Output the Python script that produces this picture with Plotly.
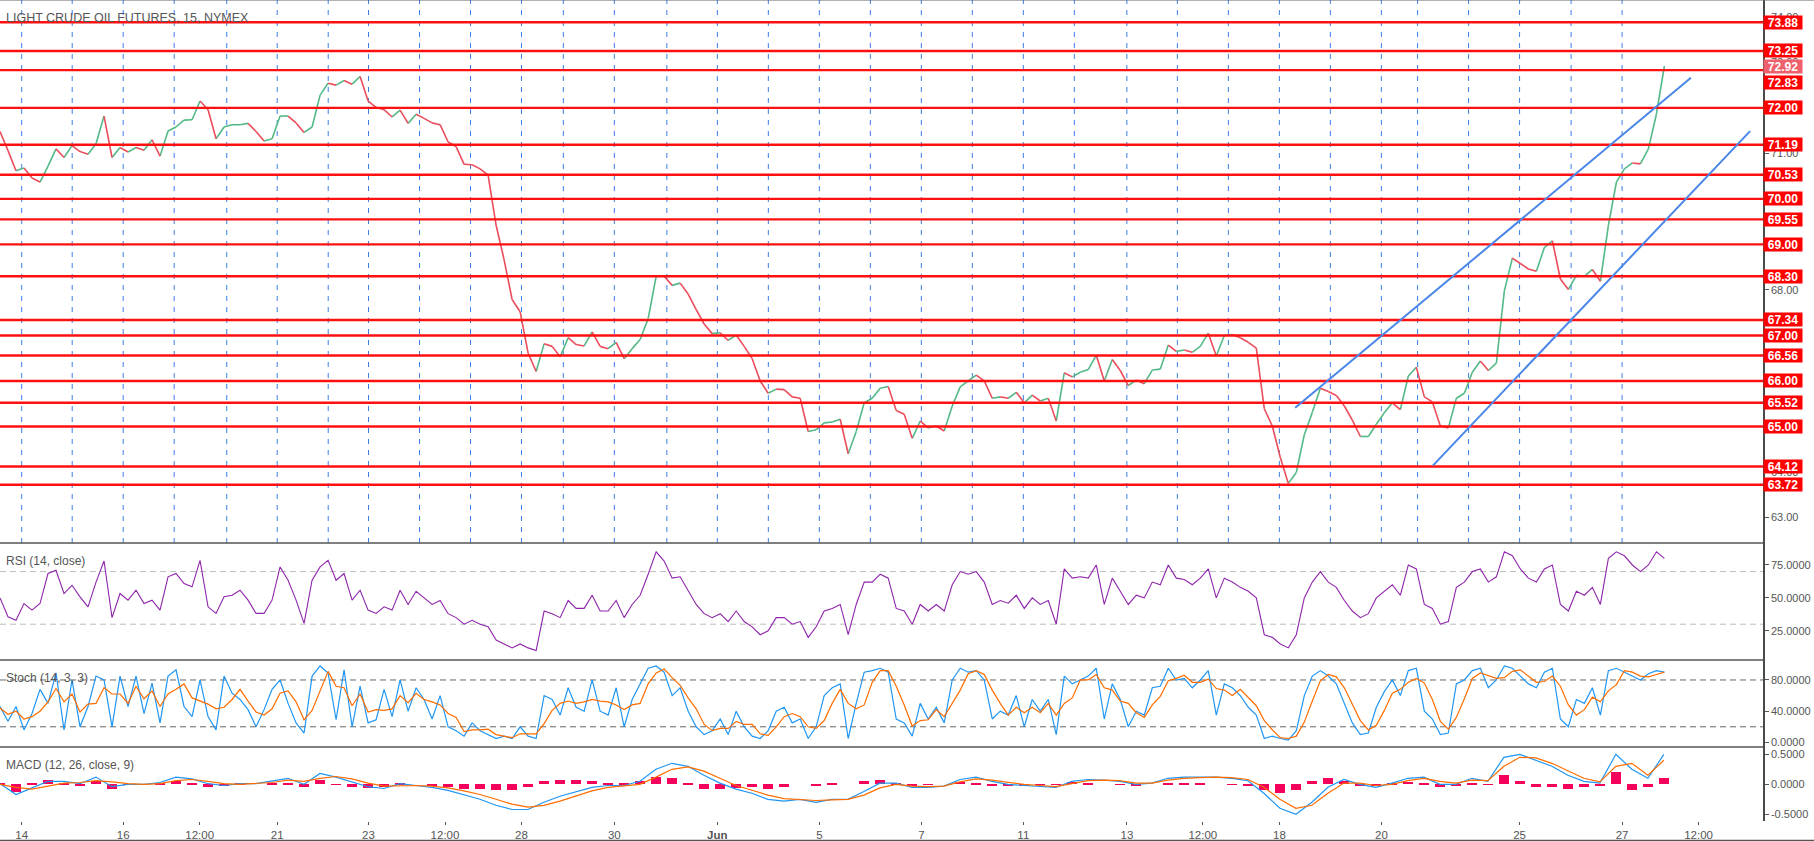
import plotly.graph_objects as go

# ---------------- data ----------------
TITLE = "LIGHT CRUDE OIL FUTURES, 15, NYMEX"
T_START = -0.4255          # first sample, in session units (1 unit = one trading session)
T_STEP = 0.1569            # sample spacing
CLOSE = [
    71.48, 71.06, 70.62, 70.68, 70.46, 70.37, 70.72, 71.10, 70.91, 71.17,
    71.04, 70.98, 71.21, 71.82, 70.91, 71.13, 71.03, 71.13, 71.07, 71.30,
    70.94, 71.49, 71.58, 71.73, 71.74, 72.15, 71.96, 71.32, 71.58, 71.63,
    71.63, 71.66, 71.48, 71.27, 71.32, 71.82, 71.82, 71.67, 71.46, 71.58,
    72.28, 72.54, 72.50, 72.60, 72.52, 72.69, 72.15, 72.01, 71.96, 71.80,
    71.95, 71.66, 71.86, 71.77, 71.67,
    71.63, 71.25, 71.15, 70.76, 70.75, 70.66, 70.52, 69.42, 68.66, 67.79,
    67.52, 66.61, 66.21, 66.82, 66.76, 66.53, 66.95, 66.80, 66.77, 67.08,
    66.76, 66.71, 66.85, 66.49, 66.71, 66.91, 67.37, 68.30, 68.30, 68.10,
    68.15, 67.91, 67.57, 67.25, 67.04, 67.06, 66.89, 67.01, 66.76, 66.49,
    66.00, 65.73, 65.82, 65.81, 65.65, 65.62, 64.89, 64.93, 65.08, 65.10,
    65.16, 64.40, 64.89, 65.52, 65.62,
    65.84, 65.88, 65.35, 65.27, 64.74, 65.12, 64.97, 65.01, 64.90, 65.45,
    65.87, 66.00, 66.13, 66.00, 65.62, 65.65, 65.62, 65.75, 65.52, 65.69,
    65.56, 65.62, 65.12, 66.18, 66.09, 66.19, 66.25, 66.57, 66.00, 66.47,
    66.23, 65.90, 66.02, 65.94, 66.24, 66.26, 66.79, 66.65, 66.68, 66.63,
    66.76, 67.05, 66.55, 67.00, 67.02, 66.95, 66.85, 66.72, 65.39, 65.01,
    64.32, 63.75, 63.99, 64.82, 65.31,
    65.84, 65.77, 65.68, 65.45, 65.14, 64.78, 64.78, 65.05, 65.30, 65.52,
    65.37, 66.11, 66.30, 65.65, 65.54, 65.01, 64.97, 65.62, 65.73, 66.19,
    66.44, 66.23, 66.39, 67.98, 68.70, 68.58, 68.46, 68.41, 68.93, 69.08,
    68.24, 68.01, 68.32, 68.30, 68.45, 68.19, 69.42, 70.37, 70.66, 70.79,
    70.77, 71.10, 71.86, 72.92,
]
RSI = [
    50, 35.6, 33, 45.7, 40.7, 45.7, 68.5, 71, 53.3, 59.6, 50.8, 43.2, 62, 78, 35, 53.3, 48.3,
    55.8, 45.7, 48.3, 40.7, 66, 68.5, 60.9, 58.4, 78.5, 43.2, 38.2, 50.8, 52, 55.8, 48.3, 38.2,
    38.2, 48.3, 73.5, 63.4, 48.3, 30.6, 63.4, 73.5, 78.5, 63.4, 68.5, 48.3, 55.8, 40.7, 38.2,
    43.2, 40.7, 55.8,
    45, 55, 50, 45,
    48, 38, 35, 30, 33, 30, 28,
    18, 15, 12, 15, 12, 10,
    40, 38, 35, 48, 42, 42, 52, 40, 40, 48, 35, 45, 52, 68,
    85, 78, 65, 66, 55, 45,
    38, 35, 38, 32, 40, 32, 28,
    22, 25, 35, 35, 30, 32,
    20, 28, 40, 42, 45, 22, 45, 62, 62,
    68, 65, 42, 40, 30, 45, 40, 45, 40,
    60, 70, 68, 70, 62, 45, 48, 46, 52, 42, 50, 45, 48,
    30, 72, 65, 66, 65, 75, 45, 65, 55, 45, 52, 50, 62, 60,
    75, 65, 64, 60, 65, 72, 50, 65, 62, 58, 55, 50,
    22, 20, 15, 12, 22, 50, 62,
    70, 62, 58, 48, 40, 35, 38, 50, 55, 60, 52, 75, 72,
    45, 42, 30, 32, 58, 62, 70, 72, 62, 66,
    85, 82, 72, 65, 62, 72, 75,
    45, 40, 55, 52, 58, 45,
    80, 85, 82, 75, 70, 75, 85, 80,
]
STOCH_K = [
    46, 27, 46, 16, 37, 68, 50, 89, 16, 80, 20, 46, 85, 80, 20, 85, 46, 85, 37, 76, 25, 85, 93,
    46, 33, 80, 33, 16, 85, 63, 55, 42, 20, 42, 68, 80, 50, 25, 12, 85, 98, 89, 29, 93, 20, 72,
    25, 29, 68, 33, 80,
    40, 70, 55, 30,
    60, 20, 15, 8, 25, 15, 10,
    5, 8, 5, 20, 8, 5,
    60, 55, 35, 70, 45, 40, 80, 40, 35, 70, 20, 55, 75, 95,
    98, 90, 60, 70, 40, 20,
    10, 15, 30, 10, 40, 20, 8,
    5, 15, 40, 45, 25, 30,
    5, 20, 60, 70, 75, 5, 50, 90, 92,
    95, 90, 30, 25, 8, 50, 30, 45, 25,
    80, 95, 90, 92, 80, 30, 40, 35, 60, 20, 55, 40, 55,
    10, 85, 75, 80, 85, 95, 30, 75, 55, 20, 40, 35, 70, 72,
    95, 80, 82, 70, 80, 92, 35, 75, 70, 60, 45, 35,
    5, 8, 5, 3, 15, 60, 85,
    92, 85, 75, 50, 25, 10, 12, 45, 65, 80, 60, 92, 95,
    40, 30, 10, 12, 75, 80, 92, 95, 70, 80,
    98, 95, 85, 75, 70, 90, 95,
    30, 20, 55, 50, 70, 35,
    92, 95, 90, 85, 80, 88, 92, 90,
]
STOCH_D = [
    44, 36, 40, 30, 33, 40, 52, 69, 52, 62, 39, 49, 50, 70, 62, 62, 50, 72, 56, 66, 46, 62, 68,
    75, 57, 53, 49, 43, 45, 55, 68, 53, 39, 35, 43, 63, 66, 52, 29, 41, 65, 91, 72, 70, 47, 62,
    39, 42, 41, 43, 60,
    51, 63, 55, 52,
    48, 37, 32, 14, 16, 16, 17,
    10, 8, 6, 11, 11, 11,
    24, 41, 50, 53, 50, 52, 55, 53, 52, 48, 42, 48, 50, 75,
    89, 94, 83, 73, 57, 43,
    23, 15, 18, 18, 27, 23, 23,
    11, 9, 20, 33, 37, 33,
    20, 18, 28, 50, 68, 50, 43, 48, 77,
    92, 92, 72, 48, 21, 28, 29, 42, 33,
    50, 67, 88, 92, 87, 67, 50, 35, 45, 38, 45, 38, 50,
    35, 50, 57, 80, 80, 87, 70, 67, 53, 50, 38, 32, 48, 59,
    79, 82, 86, 77, 77, 81, 69, 67, 60, 68, 58, 47,
    28, 16, 6, 5, 8, 26, 53,
    79, 87, 84, 70, 50, 28, 16, 22, 41, 63, 68, 77, 82,
    76, 55, 27, 17, 32, 56, 82, 89, 86, 82,
    83, 91, 93, 85, 77, 78, 85,
    72, 48, 35, 42, 58, 52,
    66, 74, 92, 90, 85, 84, 87, 90,
]
MACD_STEP = 0.3137
MACD = [
    0.01, -0.17, -0.06, 0.05, 0.05, 0.01, 0.12, -0.04, 0.0, 0.0, 0.03, 0.12, 0.09, 0.01, -0.02,
    0.01, 0.01, 0.05, 0.1, 0.0, 0.18, 0.12, 0.04, -0.04, -0.07, 0.01,
    -0.02, -0.05, -0.1, -0.18, -0.25, -0.35, -0.42, -0.42, -0.3, -0.2, -0.12, -0.05, -0.02, -0.02, 0.05,
    0.25, 0.35, 0.3, 0.15, 0.02, -0.08, -0.15, -0.25, -0.28, -0.25, -0.3, -0.25, -0.25, -0.12,
    0.02, 0.02, -0.05, -0.05, -0.03, 0.08, 0.12, 0.05, 0.0, -0.02, -0.03, -0.05, 0.05, 0.08, 0.07,
    0.05, 0.0, 0.02, 0.1, 0.12, 0.12, 0.12, 0.1, 0.06,
    -0.15, -0.4, -0.5, -0.3, -0.05, 0.08, 0.0, -0.05, 0.02, 0.1, 0.12, 0.0, 0.0, 0.1, 0.05,
    0.45, 0.5, 0.4, 0.3, 0.15, 0.05, 0.02, 0.5, 0.25, 0.1, 0.5,
]
SIGNAL = [
    0.0, -0.05, -0.08, -0.03, 0.02, 0.03, 0.06, 0.04, 0.01, 0.0, 0.01, 0.06, 0.08, 0.05, 0.01,
    0.0, 0.01, 0.03, 0.07, 0.05, 0.1, 0.13, 0.09, 0.02, -0.03, -0.02,
    -0.02, -0.03, -0.06, -0.11, -0.17, -0.25, -0.33, -0.38, -0.35, -0.28, -0.19, -0.11, -0.05, -0.03, 0.0,
    0.12, 0.25, 0.29, 0.22, 0.1, -0.02, -0.1, -0.18, -0.24, -0.25, -0.27, -0.26, -0.25, -0.18,
    -0.06, 0.0, -0.03, -0.04, -0.03, 0.04, 0.09, 0.07, 0.03, 0.0, -0.02, -0.04, 0.01, 0.06, 0.07,
    0.06, 0.02, 0.02, 0.07, 0.1, 0.11, 0.12, 0.11, 0.08,
    -0.05, -0.25, -0.4, -0.35, -0.15, 0.02, 0.02, -0.02, 0.0, 0.06, 0.1, 0.05, 0.02, 0.07, 0.06,
    0.3, 0.45, 0.44, 0.35, 0.22, 0.1, 0.04, 0.3, 0.35, 0.15, 0.4,
]
HIST = [
    0.01, -0.12, 0.02, 0.08, 0.03, -0.02, 0.06, -0.08, -0.01, 0.0, 0.02, 0.06, 0.01, -0.04, -0.03,
    0.01, 0.0, 0.02, 0.03, -0.05, 0.08, -0.01, -0.05, -0.06, -0.04, 0.03,
    0.0, -0.02, -0.04, -0.07, -0.08, -0.1, -0.09, -0.04, 0.05, 0.08, 0.07, 0.06, 0.03, 0.01, 0.05,
    0.13, 0.1, 0.01, -0.07, -0.08, -0.06, -0.05, -0.07, -0.04, 0.0, -0.03, 0.01, 0.0, 0.06,
    0.08, 0.02, -0.02, -0.01, 0.0, 0.04, 0.03, -0.02, -0.03, -0.02, -0.01, -0.01, 0.04, 0.02, 0.0,
    -0.01, -0.02, 0.0, 0.03, 0.02, 0.01, 0.0, -0.01, -0.02,
    -0.1, -0.15, -0.1, 0.05, 0.1, 0.06, -0.02, -0.03, 0.02, 0.04, 0.02, -0.05, -0.02, 0.03, -0.01,
    0.15, 0.05, -0.04, -0.05, -0.07, -0.05, -0.02, 0.2, -0.1, -0.05, 0.1,
]
LEVELS = [73.88, 73.25, 72.83, 72.00, 71.19, 70.53, 70.00, 69.55, 69.00, 68.30,
          67.34, 67.00, 66.56, 66.00, 65.52, 65.00, 64.12, 63.72]
LAST_PRICE = 72.92
# session starts (14 May ... 27 Jun) on the session axis
SESSION_POS = [0.0, 0.99, 1.99, 2.99, 4.02, 5.01, 6.01, 6.80, 7.80, 8.80, 9.80, 10.62, 11.62,
               12.65, 13.64, 14.64, 15.64, 16.64, 17.64, 18.64, 19.64, 20.64, 21.67, 22.66,
               23.66, 24.66, 25.66, 26.66, 27.37, 28.37, 29.37, 30.38, 31.38]
TICK_POS = [0.0, 1.99, 3.49, 5.01, 6.80, 8.30, 9.80, 11.62, 13.64, 15.64, 17.64, 19.64,
            21.67, 23.16, 24.66, 26.66, 29.37, 31.38, 32.88]
TICK_TEXT = ["14", "16", "12:00", "21", "23", "12:00", "28", "30", "<b>Jun</b>", "5", "7", "11",
             "13", "12:00", "18", "20", "25", "27", "12:00"]
TREND_UPPER = [(24.97, 65.41), (32.73, 72.66)]
TREND_LOWER = [(27.67, 64.14), (33.89, 71.49)]
PRICE_TICKS = [63, 64, 65, 66, 67, 68, 69, 70, 71, 72, 73, 74]

# ---------------- figure ----------------
FONT = "Liberation Sans, Arial, sans-serif"
GREEN, RED = "#53b987", "#eb4d5c"
X_RANGE = [-0.4255, 34.143]
H = 821.0


def dom(top, bot):
    return [(H - bot) / H, (H - top) / H]


t = [T_START + i * T_STEP for i in range(len(CLOSE))]
ux, uy, dx_, dy_ = [], [], [], []
for i in range(1, len(CLOSE)):
    if CLOSE[i] >= CLOSE[i - 1]:
        ux += [t[i - 1], t[i], None]
        uy += [CLOSE[i - 1], CLOSE[i], None]
    else:
        dx_ += [t[i - 1], t[i], None]
        dy_ += [CLOSE[i - 1], CLOSE[i], None]

fig = go.Figure()
fig.add_trace(go.Scatter(x=ux, y=uy, mode="lines", line=dict(color=GREEN, width=1.6),
                         xaxis="x", yaxis="y", hoverinfo="skip"))
fig.add_trace(go.Scatter(x=dx_, y=dy_, mode="lines", line=dict(color=RED, width=1.6),
                         xaxis="x", yaxis="y", hoverinfo="skip"))

tr = [T_START + i * T_STEP for i in range(len(RSI))]
fig.add_trace(go.Scatter(x=tr, y=RSI, mode="lines", line=dict(color="#8e24aa", width=1.1),
                         xaxis="x2", yaxis="y2"))
tk = [T_START + i * T_STEP for i in range(len(STOCH_K))]
td = [T_START + i * T_STEP for i in range(len(STOCH_D))]
fig.add_trace(go.Scatter(x=tk, y=STOCH_K, mode="lines", line=dict(color="#2196f3", width=1.2),
                         xaxis="x3", yaxis="y3"))
fig.add_trace(go.Scatter(x=td, y=STOCH_D, mode="lines", line=dict(color="#ff6d00", width=1.2),
                         xaxis="x3", yaxis="y3"))
tm = [T_START + i * MACD_STEP for i in range(len(MACD))]
ts = [T_START + i * MACD_STEP for i in range(len(SIGNAL))]
th = [T_START + i * MACD_STEP for i in range(len(HIST))]
fig.add_trace(go.Bar(x=th, y=HIST, marker=dict(color="#f5005a", line=dict(width=0)),
                     width=MACD_STEP * 0.6, xaxis="x4", yaxis="y4"))
fig.add_trace(go.Scatter(x=tm, y=MACD, mode="lines", line=dict(color="#2196f3", width=1.2),
                         xaxis="x4", yaxis="y4"))
fig.add_trace(go.Scatter(x=ts, y=SIGNAL, mode="lines", line=dict(color="#ff6d00", width=1.2),
                         xaxis="x4", yaxis="y4"))

shapes = []
for p in SESSION_POS:
    shapes.append(dict(type="line", xref="x", yref="y domain", x0=p, x1=p, y0=0, y1=1,
                       line=dict(color="#3a7fe6", width=1, dash="5px,6px"), layer="below"))
for lv in LEVELS:
    shapes.append(dict(type="line", xref="paper", yref="y", x0=0, x1=1, y0=lv, y1=lv,
                       line=dict(color="#ff1010", width=2.4)))
for (a, b) in (TREND_UPPER, TREND_LOWER):
    shapes.append(dict(type="line", xref="x", yref="y", x0=a[0], y0=a[1], x1=b[0], y1=b[1],
                       line=dict(color="#4a86e8", width=2)))
for lv in (70, 30):
    shapes.append(dict(type="line", xref="paper", yref="y2", x0=0, x1=1, y0=lv, y1=lv,
                       line=dict(color="#bdbdbd", width=1, dash="6px,4px"), layer="below"))
for lv in (80, 20):
    shapes.append(dict(type="line", xref="paper", yref="y3", x0=0, x1=1, y0=lv, y1=lv,
                       line=dict(color="#666666", width=1, dash="6px,4px"), layer="below"))
for yb in (543, 660, 747):
    shapes.append(dict(type="line", xref="paper", yref="paper", x0=0, x1=1,
                       y0=(H - yb) / H, y1=(H - yb) / H, line=dict(color="#555555", width=1.5)))
shapes.append(dict(type="line", xref="paper", yref="paper", x0=0, x1=1.03, y0=1, y1=1,
                   line=dict(color="#666666", width=1)))
shapes.append(dict(type="line", xref="paper", yref="paper", x0=0, x1=1.03,
                   y0=-19.5 / H, y1=-19.5 / H, line=dict(color="#555555", width=1.5)))

ann = []
for lv in LEVELS:
    ann.append(dict(x=1, xref="paper", y=lv, yref="y", xanchor="left", yanchor="middle",
                    text="<b>%.2f</b>" % lv, showarrow=False, bgcolor="#ff0000",
                    font=dict(family=FONT, size=12, color="white"), borderpad=1, width=36,
                    height=11, yshift=(-12 if lv == 72.83 else 0)))
ann.append(dict(x=1, xref="paper", y=LAST_PRICE, yref="y", xanchor="left", yanchor="middle",
                text="<b>%.2f</b>" % LAST_PRICE, showarrow=False, bgcolor="#ef5f6c",
                font=dict(family=FONT, size=12, color="white"), borderpad=1, width=36, height=11))
for yref, txt, sz in (("y domain", TITLE, 12.5), ("y2 domain", "RSI (14, close)", 12),
                      ("y3 domain", "Stoch (14, 3, 3)", 12),
                      ("y4 domain", "MACD (12, 26, close, 9)", 12)):
    ann.append(dict(x=0, xref="paper", y=1, yref=yref, xanchor="left", yanchor="middle",
                    xshift=4, yshift=-18, text=txt, showarrow=False,
                    font=dict(family=FONT, size=sz, color="#555555")))

axis_common = dict(showgrid=False, zeroline=False, range=X_RANGE, showticklabels=False,
                   ticks="", automargin=False)
yc = dict(side="right", showgrid=False, zeroline=False, showline=True, linecolor="#4a4a4a",
          linewidth=1.5, ticks="outside", ticklen=4, tickcolor="#555555", automargin=False,
          tickfont=dict(family=FONT, size=11, color="#555555"))

fig.update_layout(
    width=1814, height=841,
    margin=dict(l=0, r=51, t=0, b=20, autoexpand=False),
    paper_bgcolor="white", plot_bgcolor="white",
    showlegend=False, bargap=0,
    xaxis=dict(domain=[0, 1], anchor="y", **axis_common),
    xaxis2=dict(domain=[0, 1], anchor="y2", matches="x", **axis_common),
    xaxis3=dict(domain=[0, 1], anchor="y3", matches="x", **axis_common),
    xaxis4=dict(domain=[0, 1], anchor="y4", matches="x", showgrid=False, zeroline=False,
                range=X_RANGE, tickvals=TICK_POS, ticktext=TICK_TEXT, ticks="outside",
                ticklen=3, tickcolor="#555555", showline=False, automargin=False,
                tickfont=dict(family=FONT, size=11.5, color="#555555")),
    yaxis=dict(domain=dom(0, 543), anchor="x", range=[62.44, 74.37],
               tickvals=PRICE_TICKS, ticktext=["%.2f" % v for v in PRICE_TICKS], **yc),
    yaxis2=dict(domain=dom(543, 660), anchor="x2", range=[2.8, 91.7],
                tickvals=[25, 50, 75], ticktext=["25.0000", "50.0000", "75.0000"], **yc),
    yaxis3=dict(domain=dom(660, 747), anchor="x3", range=[-5.9, 105.6],
                tickvals=[0, 40, 80], ticktext=["0.0000", "40.0000", "80.0000"], **yc),
    yaxis4=dict(domain=dom(747, 821), anchor="x4", range=[-0.612, 0.622],
                tickvals=[-0.5, 0, 0.5], ticktext=["-0.5000", "0.0000", "0.5000"], **yc),
    shapes=shapes, annotations=ann,
)

fig.write_html(
    "out.html",
    config={"displayModeBar": False},
    post_script="document.body.style.margin='0';document.body.style.padding='0';"
                "document.body.style.overflow='hidden';",
)
